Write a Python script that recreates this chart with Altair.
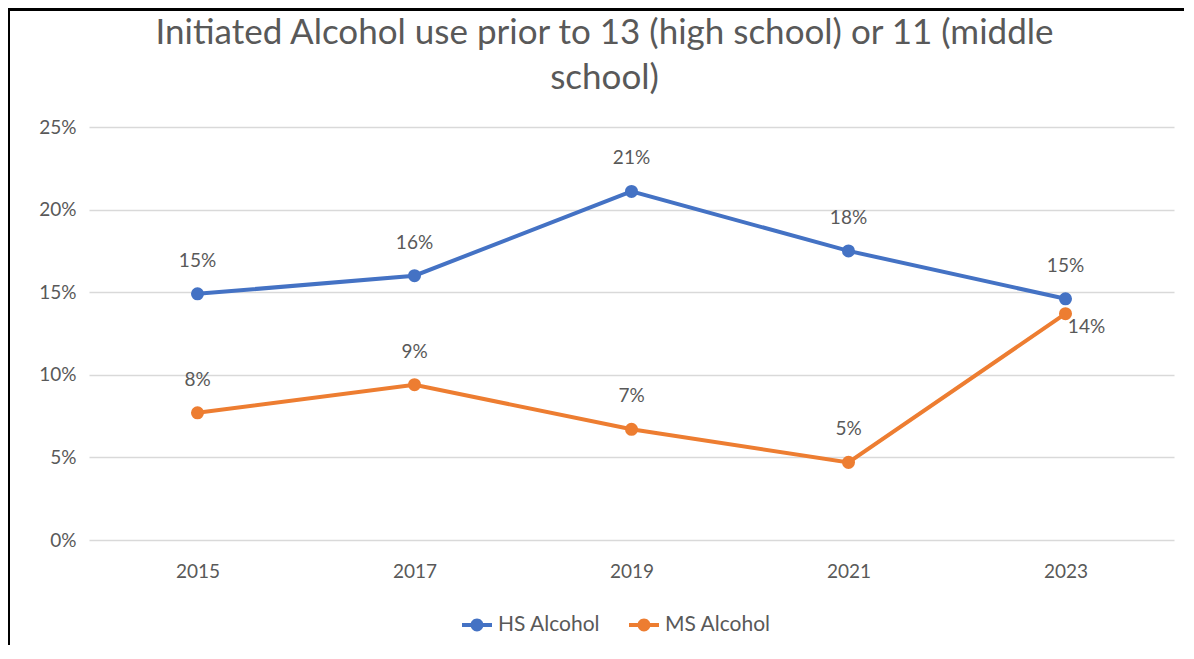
import altair as alt
import pandas as pd

years = ["2015", "2017", "2019", "2021", "2023"]
hs_alcohol = [0.149, 0.160, 0.211, 0.175, 0.146]
ms_alcohol = [0.077, 0.094, 0.067, 0.047, 0.137]
series_names = ["HS Alcohol", "MS Alcohol"]
series_colors = ["#4472C4", "#ED7D31"]

rows = []
for y, v in zip(years, hs_alcohol):
    rows.append({"year": y, "series": "HS Alcohol", "value": v})
for y, v in zip(years, ms_alcohol):
    rows.append({"year": y, "series": "MS Alcohol", "value": v})
df = pd.DataFrame(rows)

FONT = "Lato"
TXT = "#595959"

x = alt.X("year:O", scale=alt.Scale(type="point", padding=0.5),
          axis=alt.Axis(title=None, labelAngle=0, labelFontSize=19, labelColor=TXT,
                        labelFont=FONT, ticks=False, domain=False, labelPadding=22))
y = alt.Y("value:Q", scale=alt.Scale(domain=[0, 0.25]),
          axis=alt.Axis(title=None, format=".0%", values=[0, 0.05, 0.10, 0.15, 0.20, 0.25],
                        labelFontSize=19, labelColor=TXT, labelFont=FONT, ticks=False,
                        domain=False, labelPadding=13, gridColor="#D9D9D9", gridWidth=1.5))
color_scale = alt.Scale(domain=series_names, range=series_colors)

base = alt.Chart(df)

lines = base.mark_line(strokeWidth=4).encode(
    x=x, y=y, color=alt.Color("series:N", scale=color_scale, legend=None))

legend_symbol = ("M -1 -0.13 L 1 -0.13 L 1 0.13 L -1 0.13 Z "
                 "M 0.43 0 A 0.43 0.43 0 1 1 -0.43 0 A 0.43 0.43 0 1 1 0.43 0 Z")

points = base.mark_circle(size=170, opacity=1).encode(
    x=x, y=y,
    color=alt.Color("series:N", scale=color_scale,
                    legend=alt.Legend(title=None, orient="none", direction="horizontal",
                                      legendX=373, legendY=483, symbolType=legend_symbol,
                                      symbolSize=900, symbolStrokeWidth=0,
                                      labelFontSize=21, labelColor=TXT, labelFont=FONT,
                                      columnPadding=28, labelOffset=6)))

is_exception = (alt.datum.series == "MS Alcohol") & (alt.datum.year == "2023")

labels = base.mark_text(dy=-33, fontSize=19, color=TXT, font=FONT).encode(
    x=x, y=y, text=alt.Text("value:Q", format=".0%")
).transform_filter(~is_exception)

labels_exc = base.mark_text(dx=21, dy=13, fontSize=19, color=TXT, font=FONT).encode(
    x=x, y=y, text=alt.Text("value:Q", format=".0%")
).transform_filter(is_exception)

frame_left = alt.Chart(df).mark_rule(color="black", strokeWidth=3).encode(
    x=alt.value(-81), y=alt.value(-119), y2=alt.value(530))
frame_top = alt.Chart(df).mark_rule(color="black", strokeWidth=3).encode(
    x=alt.value(-81), x2=alt.value(1100), y=alt.value(-118))

chart = alt.layer(lines, points, labels, labels_exc, frame_left, frame_top).properties(
    width=1085, height=413,
    autosize=alt.AutoSizeParams(type="none"),
    padding={"left": 81, "top": 119, "right": 10, "bottom": 105},
    title=alt.TitleParams(
        text=["Initiated Alcohol use prior to 13 (high school) or 11 (middle", "school)"],
        fontSize=35, font=FONT, color=TXT, fontWeight="normal",
        anchor="middle", dx=-27, dy=111, offset=22, lineHeight=45),
).resolve_legend(color="independent").configure_view(stroke=None)

chart.save("out.html", embed_options={"renderer": "svg", "actions": False})
